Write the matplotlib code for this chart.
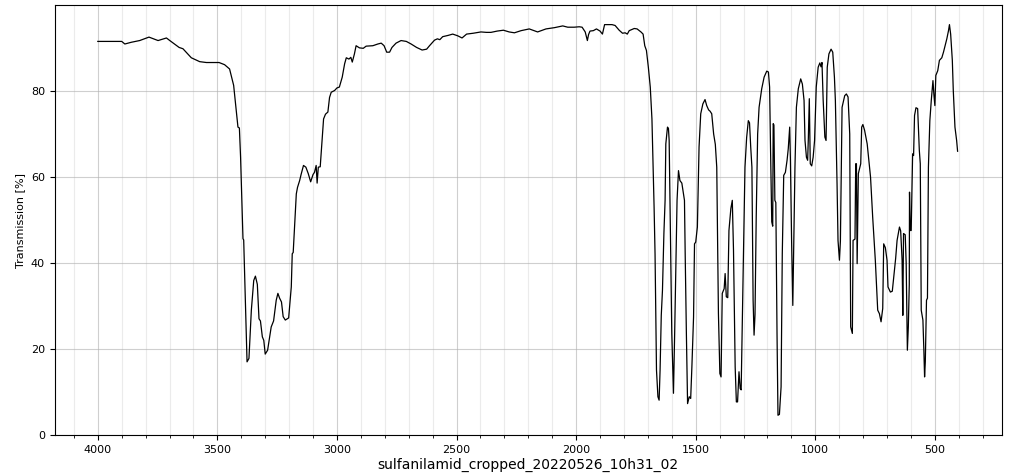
import matplotlib
matplotlib.use('Agg')
import matplotlib.pyplot as plt
from matplotlib.ticker import MultipleLocator
import numpy as np

title = 'sulfanilamid_cropped_20220526_10h31_02'

### Spectrum (wavenumber in cm-1, transmission in %)
wavenumber = [
    4000, 3900, 3887, 3860, 3825, 3786, 3748, 3713, 3699, 3660, 3644, 3609, 3574, 3546,
    3493, 3470, 3449, 3432, 3421, 3414, 3408, 3403, 3393, 3390, 3376, 3368, 3358, 3348,
    3341, 3333, 3326, 3320, 3312, 3306, 3300, 3290, 3275, 3265, 3254, 3247, 3240, 3232,
    3225, 3216, 3208, 3202, 3191, 3187, 3183, 3170, 3165, 3156, 3150, 3140, 3130, 3120,
    3110, 3100, 3094, 3087, 3083, 3078, 3070, 3062, 3056, 3048, 3038, 3031, 3024, 3010,
    3000, 2990, 2978, 2968, 2961, 2950, 2942, 2936, 2927, 2920, 2906, 2890, 2878, 2850,
    2829, 2815, 2803, 2792, 2780, 2770, 2753, 2732, 2710, 2690, 2667, 2644, 2625, 2613,
    2592, 2580, 2570, 2558, 2535, 2516, 2495, 2477, 2458, 2430, 2398, 2375, 2356, 2330,
    2304, 2280, 2258, 2230, 2196, 2161, 2126, 2090, 2056, 2035, 2008, 1987, 1975, 1962,
    1953, 1948, 1942, 1928, 1915, 1900, 1890, 1881, 1850, 1837, 1820, 1806, 1795, 1786,
    1778, 1757, 1745, 1729, 1720, 1713, 1706, 1698, 1690, 1683, 1678, 1674, 1670, 1664,
    1658, 1653, 1649, 1644, 1639, 1633, 1628, 1625, 1618, 1614, 1611, 1607, 1600, 1593,
    1588, 1583, 1578, 1572, 1566, 1558, 1551, 1547, 1544, 1539, 1534, 1527, 1521, 1516,
    1509, 1505, 1500, 1493, 1486, 1479, 1470, 1461, 1454, 1446, 1440, 1433, 1425, 1418,
    1412, 1405, 1399, 1394, 1389, 1381, 1377, 1372, 1366, 1361, 1353, 1347, 1342, 1335,
    1330, 1325, 1319, 1314, 1310, 1305, 1301, 1294, 1287, 1280, 1275, 1270, 1265, 1260,
    1256, 1252, 1247, 1241, 1235, 1224, 1214, 1203, 1196, 1191, 1187, 1182, 1178, 1176,
    1173, 1169, 1165, 1160, 1156, 1150, 1143, 1138, 1132, 1125, 1118, 1113, 1107, 1104,
    1099, 1094, 1090, 1085, 1079, 1071, 1061, 1054, 1047, 1043, 1037, 1032, 1029, 1025,
    1021, 1015, 1009, 1003, 996, 988, 981, 976, 972, 967, 960, 955, 950, 943,
    934, 927, 920, 916, 909, 905, 899, 895, 888, 877, 870, 863, 856, 852,
    845, 842, 834, 831, 828, 825, 820, 810, 806, 801, 794, 783, 769, 760,
    749, 739, 732, 725, 718, 714, 707, 700, 696, 686, 678, 671, 664, 658,
    648, 643, 637, 634, 631, 624, 620, 615, 611, 607, 606, 603, 599, 593,
    589, 585, 579, 572, 565, 561, 557, 550, 546, 543, 540, 535, 531, 527,
    521, 515, 508, 504, 500, 496, 488, 481, 471, 464, 457, 450, 443, 439,
    434, 427, 423, 416, 409, 405,
]
transmission = [
    91.4, 91.4, 90.8, 91.2, 91.6, 92.4, 91.6, 92.2, 91.6, 90.0, 89.7, 87.6, 86.7, 86.5,
    86.5, 86.0, 85.0, 81.2, 75.4, 71.5, 71.3, 64.5, 45.6, 45.3, 17.0, 17.8, 29.0, 35.9,
    36.9, 35.0, 27.0, 26.5, 22.8, 22.0, 18.8, 19.7, 25.1, 26.5, 31.3, 32.9, 31.8, 30.9,
    27.5, 26.7, 27.0, 27.2, 34.4, 42.1, 42.4, 56.0, 57.5, 59.1, 60.5, 62.6, 62.2, 60.7,
    58.8, 60.5, 61.0, 62.6, 58.5, 62.2, 62.3, 68.8, 73.4, 74.5, 75.0, 78.4, 79.6, 80.0,
    80.6, 80.8, 83.1, 86.2, 87.6, 87.3, 87.7, 86.6, 88.5, 90.4, 89.9, 89.8, 90.3, 90.4,
    90.8, 91.0, 90.4, 88.9, 88.9, 90.0, 91.0, 91.6, 91.4, 90.8, 90.0, 89.4, 89.6, 90.4,
    91.7, 92.0, 91.8, 92.5, 92.8, 93.1, 92.7, 92.2, 93.1, 93.3, 93.6, 93.5, 93.5, 93.8,
    94.0, 93.6, 93.4, 93.9, 94.3, 93.6, 94.3, 94.6, 95.0, 94.7, 94.7, 94.8, 94.7, 93.6,
    91.6, 93.0, 93.8, 93.9, 94.3, 93.8, 93.1, 95.3, 95.3, 95.1, 94.0, 93.3, 93.4, 93.1,
    93.9, 94.4, 94.3, 93.6, 93.1, 90.4, 89.3, 85.4, 80.8, 73.4, 62.2, 52.9, 42.0, 15.1,
    8.9, 8.1, 15.0, 27.8, 33.6, 46.8, 54.5, 67.6, 71.5, 71.2, 68.4, 52.2, 23.6, 9.7,
    23.6, 39.0, 54.5, 61.4, 59.1, 58.5, 56.0, 54.5, 42.1, 23.6, 7.3, 8.9, 8.5, 15.8,
    27.4, 44.4, 44.8, 48.3, 66.9, 74.6, 76.9, 77.9, 76.5, 75.5, 75.2, 74.6, 69.9, 67.5,
    62.2, 28.2, 14.3, 13.5, 32.9, 34.0, 37.5, 32.1, 31.9, 47.5, 52.6, 54.5, 43.0, 15.8,
    7.7, 7.7, 14.7, 10.8, 10.5, 27.4, 39.8, 62.2, 69.1, 73.0, 72.5, 66.9, 62.2, 31.3,
    23.2, 28.0, 50.6, 69.9, 76.1, 80.4, 83.1, 84.5, 84.3, 80.8, 66.1, 49.5, 48.5, 72.3,
    72.0, 54.5, 54.0, 23.6, 4.6, 4.8, 11.2, 42.1, 60.3, 61.0, 63.8, 66.5, 71.5, 64.0,
    45.0, 30.1, 45.0, 62.2, 76.1, 80.4, 82.7, 81.5, 77.7, 68.4, 64.5, 63.8, 69.0, 78.1,
    63.0, 62.5, 64.5, 68.4, 80.8, 85.4, 86.4, 85.5, 86.5, 77.7, 69.2, 68.4, 85.4, 88.5,
    89.6, 88.9, 83.1, 77.7, 58.3, 45.2, 40.6, 45.0, 76.1, 78.8, 79.2, 78.5, 69.9, 25.1,
    23.6, 45.2, 45.5, 63.0, 63.0, 39.8, 60.7, 63.0, 71.5, 72.1, 70.8, 67.6, 59.9, 50.6,
    40.6, 29.0, 28.2, 26.3, 29.4, 44.4, 43.5, 40.6, 34.4, 33.2, 33.4, 37.1, 41.0, 45.2,
    48.3, 47.4, 40.6, 27.8, 46.8, 46.5, 40.0, 19.7, 25.1, 35.0, 56.4, 47.5, 47.5, 65.3,
    64.9, 74.2, 76.0, 75.8, 66.1, 63.0, 29.0, 26.7, 19.7, 13.5, 17.0, 31.3, 31.8, 62.2,
    73.0, 77.7, 82.3, 79.0, 76.5, 83.5, 84.6, 87.0, 87.6, 88.9, 90.4, 92.0, 93.9, 95.3,
    93.1, 87.0, 80.0, 71.5, 68.4, 65.9,
]

fig, ax = plt.subplots(figsize=(10.14, 4.76), dpi=100)
fig.subplots_adjust(left=0.054, right=0.988, top=0.989, bottom=0.086)

ax.plot(wavenumber, transmission, color='black', linewidth=0.9)

ax.set_xlim(4180, 220)
ax.set_ylim(0, 99.8)
ax.xaxis.set_major_locator(MultipleLocator(500))
ax.xaxis.set_minor_locator(MultipleLocator(100))
ax.yaxis.set_major_locator(MultipleLocator(20))

ax.grid(which='major', color='#b0b0b0', alpha=0.6, linewidth=0.8)
ax.grid(which='minor', axis='x', color='#b0b0b0', alpha=0.25, linewidth=0.8)

ax.tick_params(labelsize=8)
ax.set_ylabel('Transmission [%]', fontsize=8)
ax.set_xlabel(title, fontsize=10, labelpad=2)

plt.savefig('out.png', dpi=100)
